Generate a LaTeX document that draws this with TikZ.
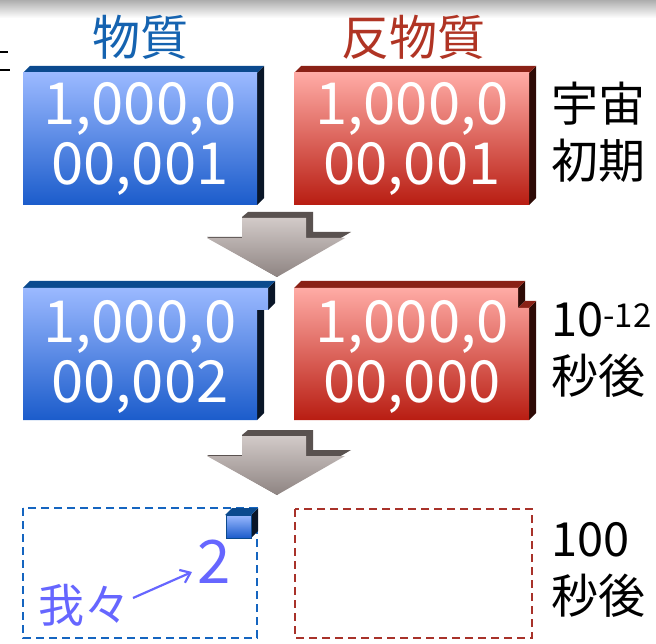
\documentclass[tikz,border=0pt]{standalone}
\usepackage{fontspec}
\setmainfont{Noto Sans CJK JP}
\usetikzlibrary{arrows.meta}
\definecolor{bluetop}{HTML}{9BB9FF}
\definecolor{bluebot}{HTML}{1B5CCB}
\definecolor{blueface}{HTML}{0B4A8E}
\definecolor{blueside}{HTML}{0A1628}
\definecolor{redtop}{HTML}{FFABA5}
\definecolor{redbot}{HTML}{B81D12}
\definecolor{redface}{HTML}{8A2116}
\definecolor{redside}{HTML}{2E0B06}
\definecolor{titleblue}{HTML}{1563B0}
\definecolor{titlered}{HTML}{B03424}
\definecolor{weblue}{HTML}{6666FF}
\definecolor{arrtop}{HTML}{D2CAC8}
\definecolor{arrbot}{HTML}{8E8482}
\definecolor{arrside}{HTML}{5A5250}
\definecolor{dashblue}{HTML}{1565C0}
\definecolor{dashred}{HTML}{A8322A}
\tikzset{
  numtext/.style={text=white, align=center, font=\fontsize{58}{60}\selectfont, inner sep=0pt},
  sidetext/.style={text=black, align=left, anchor=west, font=\fontsize{47}{57}\selectfont, inner sep=0pt},
  titletext/.style={font=\fontsize{48}{50}\selectfont, inner sep=0pt},
  dashbox/.style={dashed, dash pattern=on 8pt off 5pt, line width=1.6pt},
}
\begin{document}
\begin{tikzpicture}[x=1pt,y=-1pt]
\useasboundingbox (0,0) rectangle (656,644);
% top shadow band
\shade[top color=black!32, bottom color=white] (0,0) rectangle (656,18);
% left marks
\draw[line width=2.2pt] (0,52) -- (8,52);
\draw[line width=2.2pt] (0,70) -- (10,70);
% titles
\node[titletext, text=titleblue] (t1) at (140,37) {物質};
\node[titletext, text=titlered] (t2) at (413,37) {反物質};

% ---- row 1 blue
\fill[blueside] (257,73) -- (264,66) -- (264,198) -- (257,205) -- cycle;
\fill[blueface] (23,73) -- (30,66) -- (264,66) -- (257,73) -- cycle;
\shade[top color=bluetop, bottom color=bluebot] (23,73) rectangle (257,205);
\node[numtext] (b1) at (140,139) {1,000,0\\00,001};
% ---- row 1 red
\fill[redside] (529,73) -- (536,66) -- (536,198) -- (529,205) -- cycle;
\fill[redface] (294,73) -- (301,66) -- (536,66) -- (529,73) -- cycle;
\shade[top color=redtop, bottom color=redbot] (294,73) rectangle (529,205);
\node[numtext] (r1) at (412,139) {1,000,0\\00,001};
\node[sidetext] (l1) at (551,132) {宇宙\\初期};

% ---- arrow 1
\begin{scope}[shift={(0,0)}]
\fill[arrside] (248,212) -- (313,212) -- (313,232) -- (351,232) -- (283,272) -- (277,277) -- (207,237) -- (242,237) -- (242,217) -- cycle;
\shade[top color=arrtop, bottom color=arrbot] (242,218) -- (306,218) -- (306,238) -- (345,238) -- (277,277) -- (207,238) -- (242,238) -- cycle;
\end{scope}

% ---- row 2 blue (bump)
\fill[blueside] (268,288) -- (275,281) -- (275,303) -- (268,310) -- cycle;
\fill[blueside] (257,310) -- (264,303) -- (264,413) -- (257,420) -- cycle;
\fill[blueface] (23,288) -- (30,281) -- (275,281) -- (268,288) -- cycle;
\shade[top color=bluetop, bottom color=bluebot] (23,288) -- (268,288) -- (268,310) -- (257,310) -- (257,420) -- (23,420) -- cycle;
\node[numtext] (b2) at (140,357) {1,000,0\\00,002};
% ---- row 2 red (notch)
\fill[redside] (518,288) -- (525,281) -- (525,301) -- (518,308) -- cycle;
\fill[redside] (529,308) -- (536,301) -- (536,413) -- (529,420) -- cycle;
\fill[redface] (294,288) -- (301,281) -- (525,281) -- (518,288) -- cycle;
\fill[redface] (518,308) -- (525,301) -- (536,301) -- (529,308) -- cycle;
\shade[top color=redtop, bottom color=redbot] (294,288) -- (518,288) -- (518,308) -- (529,308) -- (529,420) -- (294,420) -- cycle;
\node[numtext] (r2) at (412,357) {1,000,0\\00,000};
\node[sidetext] (l2) at (551,350) {10\textsuperscript{-12}\\秒後};

% ---- arrow 2
\begin{scope}[shift={(0,218)}]
\fill[arrside] (248,212) -- (313,212) -- (313,232) -- (351,232) -- (283,272) -- (277,277) -- (207,237) -- (242,237) -- (242,217) -- cycle;
\shade[top color=arrtop, bottom color=arrbot] (242,218) -- (306,218) -- (306,238) -- (345,238) -- (277,277) -- (207,238) -- (242,238) -- cycle;
\end{scope}

% ---- row 3
\draw[dashbox, draw=dashblue] (23,508) rectangle (257,638);
\draw[dashbox, draw=dashred] (295,509) rectangle (532,638);
% small cube
\fill[blueside] (251,515) -- (258,508) -- (258,531) -- (251,538) -- cycle;
\fill[blueface] (225,515) -- (232,508) -- (258,508) -- (251,515) -- cycle;
\shade[top color=bluetop, bottom color=bluebot, draw=blueface, line width=1pt] (226,515) rectangle (251,538);
\node[font=\fontsize{60}{60}\selectfont, text=weblue, inner sep=0pt] (two) at (214,562) {2};
\node[font=\fontsize{46}{46}\selectfont, text=weblue, inner sep=0pt] (we) at (84,605) {我々};
\coordinate (a1) at (133,598);
\coordinate (a2) at (192,572);
\draw[weblue, line width=2.2pt, -{Straight Barb[length=9pt,width=14pt]}] (a1) -- (a2);
\node[sidetext] (l3) at (551,570) {100\\秒後};
\end{tikzpicture}
\end{document}
